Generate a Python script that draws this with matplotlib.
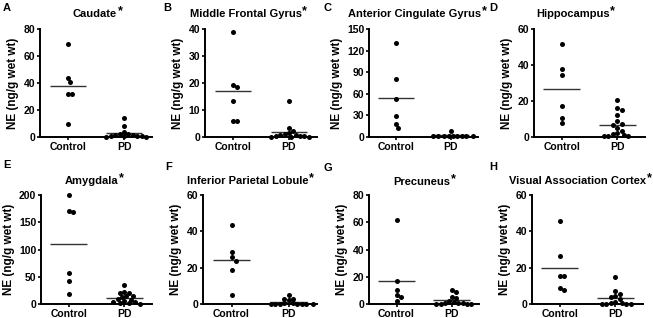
import numpy as np
import matplotlib
matplotlib.use("Agg")
import matplotlib.pyplot as plt

plt.rcParams['font.family'] = ['Liberation Sans', 'DejaVu Sans']
plt.rcParams['font.weight'] = 'bold'

# ---- data (NE, ng/g wet wt) ----
letters = ["A", "B", "C", "D", "E", "F", "G", "H"]
regions = ["Caudate", "Middle Frontal Gyrus", "Anterior Cingulate Gyrus", "Hippocampus",
           "Amygdala", "Inferior Parietal Lobule", "Precuneus", "Visual Association Cortex"]
groups = ["Control", "PD"]

control_A = [69, 44, 41, 32, 32, 10]
pd_A = [14, 8, 4, 2.5, 2, 1.5, 1.5, 1, 1, 0.5, 0.5, 0.3, 0.2]
control_B = [39, 19.3, 18.5, 13.3, 5.8, 5.8]
pd_B = [13.3, 3.5, 2.3, 1.5, 1.2, 0.8, 0.6, 0.4, 0.3, 0.2, 0.1, 0.1, 0.0]
control_C = [131, 80, 53, 29, 18, 12]
pd_C = [8, 2, 2, 2, 1.5, 1.5, 1.5, 1, 1, 1]
control_D = [51.7, 38, 34.6, 17.4, 10.6, 7.8]
pd_D = [20.5, 16.3, 15, 12.2, 8.7, 7.2, 6.8, 5.2, 3.5, 2, 1.5, 1.2, 0.8, 0.5, 0.3]
control_E = [200, 171, 169, 56, 42, 18]
pd_E = [34, 22, 21, 20, 15, 14, 12, 9, 8, 5, 4, 3, 2, 1, 0.5]
control_F = [43.4, 28.6, 25.6, 23.8, 18.5, 5.2]
pd_F = [5, 3, 3, 2.2, 0.5, 0.3, 0.2, 0.1, 0, 0, 0, 0, 0]
control_G = [61.5, 17, 10.3, 6.4, 5, 2.5]
pd_G = [10.5, 9, 5.5, 4.5, 2.5, 1.5, 1.0, 0.8, 0.5, 0.3, 0.2, 0.1, 0.1]
control_H = [45.6, 26.6, 15.5, 15.5, 8.9, 7.9]
pd_H = [15, 7, 5.5, 4.5, 4, 2.5, 1, 0.5, 0.3, 0.2, 0.1, 0.1, 0.1]

controls = [control_A, control_B, control_C, control_D, control_E, control_F, control_G, control_H]
pds = [pd_A, pd_B, pd_C, pd_D, pd_E, pd_F, pd_G, pd_H]
ymaxes = [80, 40, 150, 60, 200, 60, 80, 60]
ysteps = [20, 10, 30, 20, 50, 20, 20, 20]

# ---- layout in pixels ----
W, H = 653, 318
boxes = [(40, 29, 152, 137), (205, 29, 317, 137), (369, 29, 478, 137), (534, 29, 645, 137),
         (41, 195, 152, 304), (203, 195, 317, 304), (369, 195, 479, 304), (532, 195, 643, 304)]
title_pos = [(95, 14), (246, 14), (415, 14), (573, 14),
             (92, 181), (248, 181), (422, 182), (578, 181)]
letter_pos = [(3, 3), (163, 3), (324, 3), (489, 3), (3, 160), (165, 162), (324, 163), (489, 162)]


def swarm(vals, ymax, w_px, h_px, d=4.4):
    # simple beeswarm: each dot goes as near the centre as it can without overlap
    placed = []
    xs = []
    steps = [0]
    for k in range(1, 20):
        steps += [k, -k]
    for v in vals:
        yp = v / ymax * h_px
        for k in steps:
            xp = k * d * 0.5
            if all(np.hypot(xp - px, yp - py) >= d for px, py in placed):
                break
        placed.append((xp, yp))
        xs.append(xp / (w_px / 2.0))
    return np.array(xs)


fig = plt.figure(figsize=(W / 100, H / 100), dpi=100)

for i in range(8):
    l, t, r, b = boxes[i]
    ax = fig.add_axes([l / W, 1 - b / H, (r - l) / W, (b - t) / H])
    w_px, h_px = r - l, b - t
    for g, vals in enumerate([controls[i], pds[i]]):
        vals = np.array(vals, dtype=float)
        xo = swarm(vals, ymaxes[i], w_px, h_px)
        ax.scatter(g + xo, vals, s=13, color='black', zorder=3, clip_on=False, linewidths=0)
        m = vals.mean()
        ax.plot([g - 0.33, g + 0.33], [m, m], color='#333333', lw=1.0, zorder=2,
                solid_capstyle='butt')

    ax.set_xlim(-0.5, 1.5)
    ax.set_ylim(0, ymaxes[i])
    ax.set_yticks(np.arange(0, ymaxes[i] + 1, ysteps[i]))
    ax.set_xticks([0, 1])
    ax.set_xticklabels(groups)
    for s in ['top', 'right']:
        ax.spines[s].set_visible(False)
    for s in ['left', 'bottom']:
        ax.spines[s].set_linewidth(1.4)
    ax.tick_params(axis='both', labelsize=7.5, width=1.2, length=2.5, pad=1)
    ax.set_ylabel("NE (ng/g wet wt)", fontsize=8.5, fontweight='bold', labelpad=3)
    for lab in ax.get_xticklabels() + ax.get_yticklabels():
        lab.set_fontweight('bold')

    tx, ty = title_pos[i]
    title = fig.text(tx / W, 1 - ty / H, regions[i], fontsize=8, fontweight='bold',
                     ha='center', va='center')
    ax.annotate("*", xy=(1.0, 1.0), xycoords=title, xytext=(0.3, 2.5),
                textcoords='offset points', fontsize=9, fontweight='bold',
                ha='left', va='top')

    lx, ly = letter_pos[i]
    fig.text(lx / W, 1 - ly / H, letters[i], fontsize=8, fontweight='bold', ha='left', va='top')

fig.savefig("out.png", dpi=100)
